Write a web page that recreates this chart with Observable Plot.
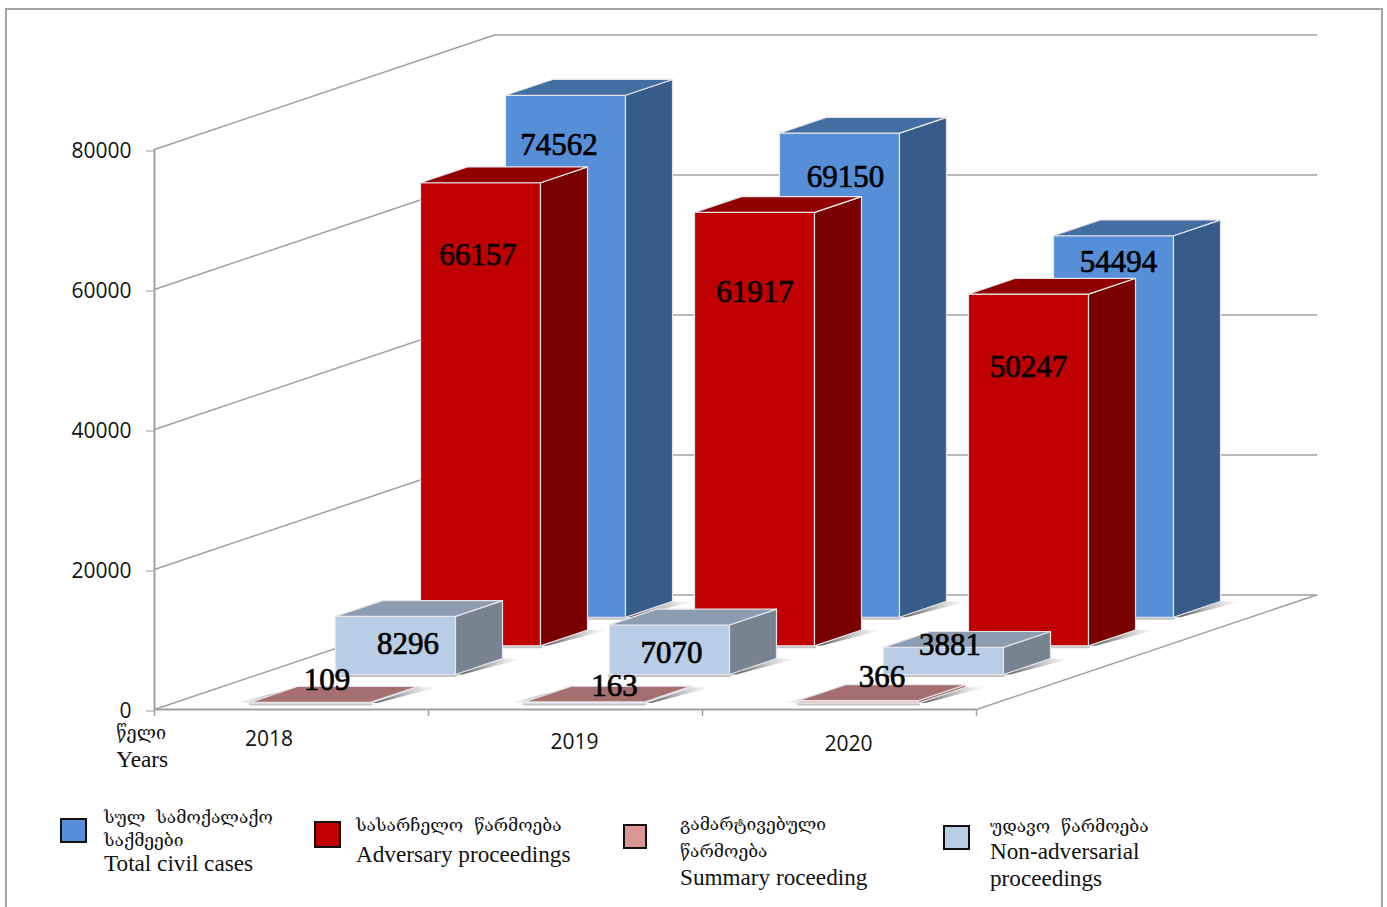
<!DOCTYPE html>
<html>
<head>
<meta charset="utf-8">
<script src="https://cdn.jsdelivr.net/npm/d3@7"></script>
<script src="https://cdn.jsdelivr.net/npm/@observablehq/plot@0.6"></script>
<style>
html,body{margin:0;padding:0;background:#fff;overflow:hidden;width:1387px;height:907px}
#frame{position:absolute;left:5px;top:8px;width:1374px;height:930px;border:2px solid #a3a3a3;box-sizing:content-box;pointer-events:none}
#chart{position:absolute;left:0;top:0}
#chart svg{background:transparent;display:block}
#legend{position:absolute;left:0;top:790px;width:1387px;height:117px;overflow:hidden;font-family:"Liberation Serif","DejaVu Serif",serif;font-size:23.2px;color:#111}
.sw{position:absolute;box-sizing:border-box;border:2px solid #111}
.t{position:absolute;white-space:pre;line-height:1;transform:translateY(-50%)}
.ka{font-family:"DejaVu Serif","DejaVu Sans",serif;font-size:17.4px}
</style>
</head>
<body>
<div id="chart"></div>
<div id="legend"></div>
<div id="frame"></div>
<script>
// ---- data ----
const years = ["2018", "2019", "2020"];
const totalCivil = [74562, 69150, 54494];
const adversary = [66157, 61917, 50247];
const summary = [109, 163, 366];
const nonAdversarial = [8296, 7070, 3881];
const yTicks = [0, 20000, 40000, 60000, 80000];

// ---- style & layout (scale units: category widths, case counts) ----
const series = [ // back to front
  {row: 3, values: totalCivil, front: "#568fd8", side: "#375c8a", top: "#426ea2", nudgeX: [-6.5, 6, 5], nudgeY: [50, 44, 26]},
  {row: 2, values: adversary, front: "#c00000", side: "#7a0000", top: "#900000", nudgeX: [-2.5, 0.5, 0], nudgeY: [72, 80, 73]},
  {row: 1, values: nonAdversarial, front: "#b9cde5", side: "#778391", top: "#8d9db1", nudgeX: [12.5, 2, 6.5], nudgeY: [27.5, 28.5, -2.5]},
  {row: 0, values: summary, front: "#e6b9b8", side: "#a56f6f", top: "#a56f6f", nudgeX: [16.5, 30, 23.5], nudgeY: [-22, -16, -23.5]}
];
const pxPerCat = 274, pxPerCase = 0.007;
const depthX = 340 / pxPerCat, depthY = 114.5 / pxPerCase;
const rows = 4, gapD = 0.2235, gapX = 0.281;
const px = (c, d) => c + d * depthX;
const py = (v, d) => v + d * depthY;
const dOf = (r, f) => (r + f) / rows;
const maxV = 80000 + depthY;

const faces = [], shadowsR = [], shadowsL = [], baseEdge = [], labels = [];
let id = 0;
const poly = (arr, pts, fill) => { id++; pts.forEach(([c, d, v]) => arr.push({id, x: px(c, d), y: py(v, d), fill})); };
for (const s of series) {
  const d1 = dOf(s.row, gapD), d2 = dOf(s.row, 1 - gapD);
  s.values.forEach((v, i) => {
    const x1 = i + gapX, x2 = i + 1 - gapX;
    poly(shadowsR, [[x2, d1, 0], [x2, d2, 0], [x2 + 0.075, d2, 0], [x2 + 0.025, d1, 0]]);
    if (s.row === 0) poly(shadowsL, [[x1, d1, 0], [x1, d2, 0], [x1 - 0.06, d1, 0]]);
    poly(baseEdge, [[x1, d1, 0], [x2, d1, 0]]);
    poly(faces, [[x1, d1, 0], [x2, d1, 0], [x2, d1, v], [x1, d1, v]], s.front);
    poly(faces, [[x2, d1, 0], [x2, d2, 0], [x2, d2, v], [x2, d1, v]], s.side);
    poly(faces, [[x1, d1, v], [x2, d1, v], [x2, d2, v], [x1, d2, v]], s.top);
    labels.push({
      x: px((x1 + x2) / 2, d1) + s.nudgeX[i] / pxPerCat,
      y: py(v, d1) - s.nudgeY[i] / pxPerCase,
      text: String(v)
    });
  });
}

// walls and floor
const wallLines = [];
yTicks.forEach((t) => {
  wallLines.push({id: "s" + t, x: 0, y: t}, {id: "s" + t, x: depthX, y: t + depthY});
  wallLines.push({id: "b" + t, x: depthX, y: t + depthY}, {id: "b" + t, x: 3 + depthX, y: t + depthY});
});
wallLines.push({id: "r", x: 3, y: 0}, {id: "r", x: 3 + depthX, y: depthY});

const yearLabels = years.map((text, i) => ({text, x: [0.418, 1.533, 2.533][i], y: [-4280, -4710, -4995][i]}));
const axisTitle = [
  {text: "წელი", x: -0.14, y: -3400, ka: true},
  {text: "Years", x: -0.14, y: -7200, ka: false}
];

const defs = () => {
  const g = d3.create("svg:defs");
  const mk = (gid, x1, x2) => {
    const lg = g.append("linearGradient").attr("id", gid).attr("x1", x1).attr("x2", x2).attr("y1", 0).attr("y2", 0);
    lg.append("stop").attr("offset", "0%").attr("stop-color", "#666").attr("stop-opacity", 0.95);
    lg.append("stop").attr("offset", "100%").attr("stop-color", "#aaa").attr("stop-opacity", 0);
  };
  mk("shR", 0.15, 1); mk("shL", 1, 0);
  return g.node();
};

const axisFont = "'Open Sans'", gridColor = "#a0a0a0";
const plot = Plot.plot({
  width: 1387, height: 790,
  marginLeft: 154, marginRight: 71, marginTop: 34.5, marginBottom: 81,
  x: {domain: [0, 3 + depthX], range: [154, 1316], axis: null},
  y: {domain: [0, maxV], range: [709, 34.5], axis: null},
  style: {background: "transparent", overflow: "visible"},
  marks: [
    defs,
    Plot.line(wallLines, {x: "x", y: "y", z: "id", stroke: gridColor, strokeWidth: 1.5}),
    Plot.ruleX([0], {y1: 0, y2: 80000, stroke: gridColor, strokeWidth: 2}),
    Plot.ruleY([0], {x1: 0, x2: 3, stroke: gridColor, strokeWidth: 2}),
    Plot.ruleX([0, 1, 2, 3], {y1: 0, y2: -1000, stroke: gridColor, strokeWidth: 1.5}),
    Plot.axisY({ticks: yTicks, tickFormat: (d) => String(d), tickSize: 8, tickPadding: 15, label: null, stroke: gridColor,
      fontSize: 21, fontFamily: axisFont, fill: "#111", dy: 1.5}),
    Plot.line(shadowsR, {x: "x", y: "y", z: "id", fill: "url(#shR)", stroke: "none", curve: "linear-closed"}),
    Plot.line(shadowsL, {x: "x", y: "y", z: "id", fill: "url(#shL)", stroke: "none", curve: "linear-closed"}),
    Plot.line(baseEdge, {x: "x", y: "y", z: "id", stroke: "#c4c4c4", strokeWidth: 3, dy: 1}),
    Plot.line(faces, {x: "x", y: "y", z: "id", fill: "fill", stroke: "#e4e4ea", strokeWidth: 1.2, curve: "linear-closed"}),
    Plot.text(labels, {x: "x", y: "y", text: "text", fontFamily: "'Liberation Serif'", fontSize: 31, fill: "#000", stroke: "#000", strokeWidth: 0.7, textAnchor: "middle", lineAnchor: "middle"}),
    Plot.text(yearLabels, {x: "x", y: "y", text: "text", fontFamily: axisFont, fontSize: 21, fill: "#111", textAnchor: "middle", lineAnchor: "middle"}),
    Plot.text(axisTitle.filter((d) => d.ka), {x: "x", y: "y", text: "text", fontFamily: "'DejaVu Serif'", fontSize: 18, fill: "#111", textAnchor: "start", lineAnchor: "middle"}),
    Plot.text(axisTitle.filter((d) => !d.ka), {x: "x", y: "y", text: "text", fontFamily: "'Liberation Serif'", fontSize: 23.3, fill: "#111", textAnchor: "start", lineAnchor: "middle"})
  ]
});
document.getElementById("chart").appendChild(plot);

// ---- legend ----
const legendItems = [
  {swatch: "#568fd8", sx: 60, sy: 818, sw: 27, sh: 25, tx: 104, lines: [["სულ  სამოქალაქო", 817.5, 1], ["საქმეები", 840.5, 1], ["Total civil cases", 864, 0]]},
  {swatch: "#c00000", sx: 314, sy: 821, sw: 27, sh: 27, tx: 356, lines: [["სასარჩელო  წარმოება", 825.5, 1], ["Adversary proceedings", 855, 0]]},
  {swatch: "#d99694", sx: 623, sy: 824, sw: 24, sh: 25, tx: 680, lines: [["გამარტივებული", 824.5, 1], ["წარმოება", 851.5, 1], ["Summary roceeding", 878, 0]]},
  {swatch: "#b9cde5", sx: 943, sy: 825, sw: 27, sh: 25, tx: 990, lines: [["უდავო  წარმოება", 826.5, 1], ["Non-adversarial", 852, 0], ["proceedings", 879, 0]]}
];
const legend = document.getElementById("legend");
for (const it of legendItems) {
  const s = document.createElement("div");
  s.className = "sw";
  s.style.cssText = `left:${it.sx}px;top:${it.sy - 790}px;width:${it.sw}px;height:${it.sh}px;background:${it.swatch}`;
  legend.appendChild(s);
  for (const [txt, y, ka] of it.lines) {
    const t = document.createElement("div");
    t.className = "t" + (ka ? " ka" : "");
    t.style.left = it.tx + "px";
    t.style.top = (y - 790) + "px";
    t.textContent = txt;
    legend.appendChild(t);
  }
}
</script>
</body>
</html>
